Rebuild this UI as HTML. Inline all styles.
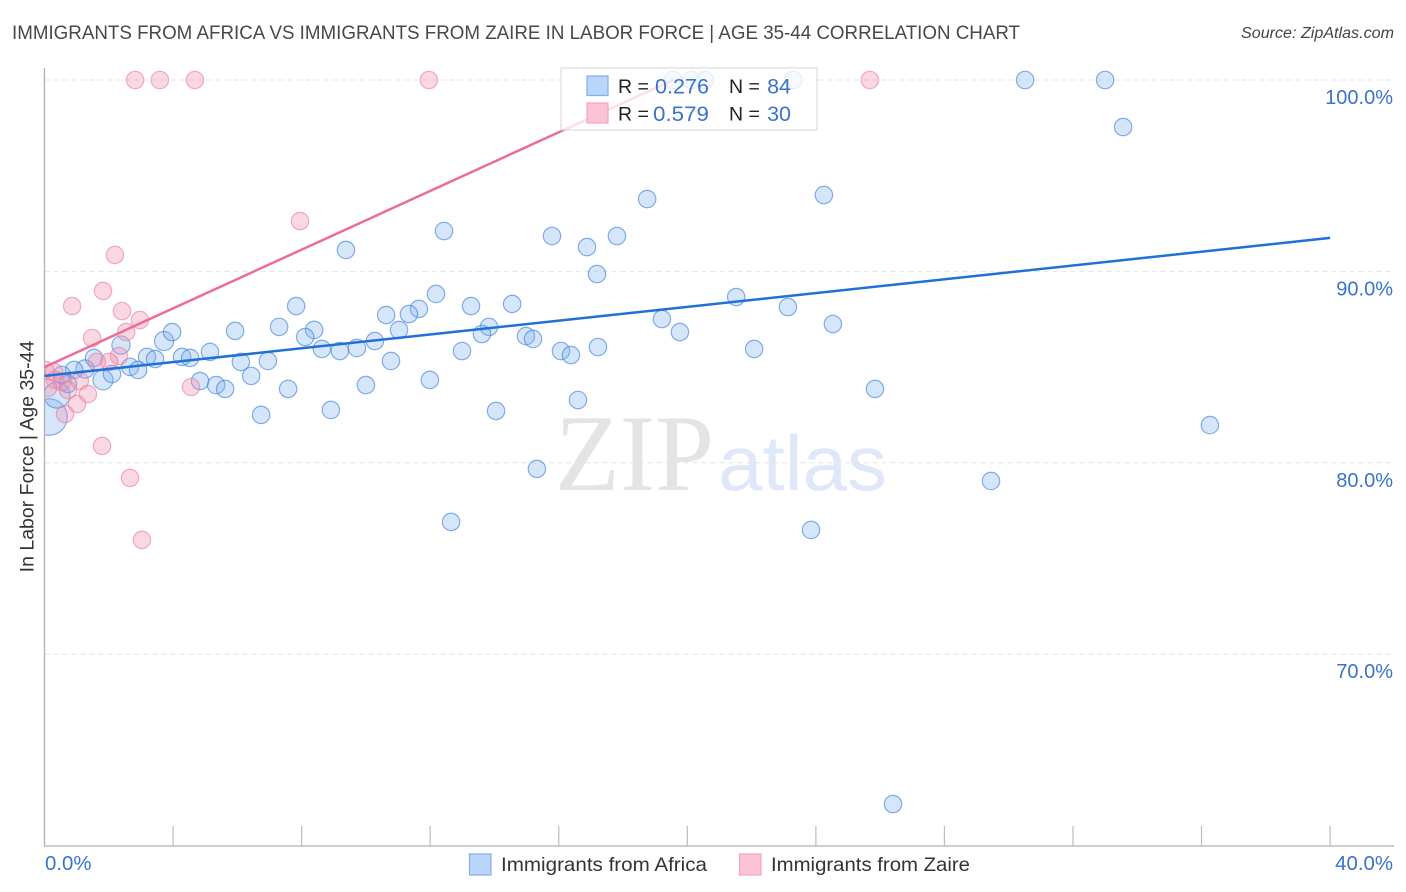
<!DOCTYPE html>
<html lang="en">
<head>
<meta charset="utf-8">
<title>Immigrants from Africa vs Immigrants from Zaire in Labor Force | Age 35-44 Correlation Chart</title>
<style>
html,body{margin:0;padding:0;background:#fff;width:1406px;height:892px;overflow:hidden}
svg{display:block}
text{font-family:"Liberation Sans",sans-serif}
</style>
</head>
<body>
<svg id="chart" xmlns="http://www.w3.org/2000/svg" width="1406" height="892" viewBox="0 0 1406 892">
  <defs><clipPath id="plot-clip"><rect x="45" y="60" width="1349" height="786"/></clipPath></defs>
  <text x="12" y="39" font-size="19.6" fill="#484848" textLength="1008" lengthAdjust="spacingAndGlyphs">IMMIGRANTS FROM AFRICA VS IMMIGRANTS FROM ZAIRE IN LABOR FORCE | AGE 35-44 CORRELATION CHART</text>
  <text x="1394" y="38" font-size="15.3" font-style="italic" fill="#444" text-anchor="end" textLength="153" lengthAdjust="spacingAndGlyphs">Source: ZipAtlas.com</text>
  <g>
    <text x="555" y="490" style="font-family:'Liberation Serif',serif" font-size="109" fill="#e4e4e4" textLength="159" lengthAdjust="spacingAndGlyphs">ZIP</text>
    <text x="718" y="490" font-size="78" fill="#dfe8f9" textLength="169" lengthAdjust="spacingAndGlyphs">atlas</text>
  </g>
  <g id="grid"></g>
  <g id="axes"></g>
  <g id="marks" clip-path="url(#plot-clip)"></g>
  <g id="lines"></g>
  <text transform="translate(33.5,456.5) rotate(-90)" font-size="19.5" fill="#333" text-anchor="middle">In Labor Force | Age 35-44</text>
  <g>
    <rect x="561" y="68" width="256" height="62" fill="#fff" fill-opacity="0.78" stroke="#d4d4d4" stroke-width="1"/>
    <rect x="587" y="76" width="21" height="19.5" fill="#b9d5f9" stroke="#7fb0ea" stroke-width="1.2"/>
    <rect x="587" y="103" width="21" height="20" fill="#fcc3d5" stroke="#f2a3bf" stroke-width="1.2"/>
    <text x="618" y="93" font-size="19.5" fill="#222">R =</text>
    <text x="709" y="93.5" font-size="21.5" fill="#3a72d0" text-anchor="end" textLength="54" lengthAdjust="spacingAndGlyphs">0.276</text>
    <text x="729" y="93" font-size="19.5" fill="#222">N =</text>
    <text x="791" y="93.5" font-size="21.5" fill="#3a72d0" text-anchor="end">84</text>
    <text x="618" y="120.5" font-size="19.5" fill="#222">R =</text>
    <text x="709" y="121" font-size="21.5" fill="#3a72d0" text-anchor="end" textLength="56" lengthAdjust="spacingAndGlyphs">0.579</text>
    <text x="729" y="120.5" font-size="19.5" fill="#222">N =</text>
    <text x="791" y="121" font-size="21.5" fill="#3a72d0" text-anchor="end">30</text>
  </g>
  <g>
    <rect x="469.5" y="854" width="21.5" height="21" fill="#b9d5f9" stroke="#7fb0ea" stroke-width="1.2"/>
    <text x="501" y="871" font-size="19.5" fill="#333" textLength="206" lengthAdjust="spacingAndGlyphs">Immigrants from Africa</text>
    <rect x="739.5" y="854" width="21.5" height="21" fill="#fcc3d5" stroke="#f2a3bf" stroke-width="1.2"/>
    <text x="771" y="871" font-size="19.5" fill="#333" textLength="199" lengthAdjust="spacingAndGlyphs">Immigrants from Zaire</text>
  </g>
</svg>
<script>
const xTicks = [0,4,8,12,16,20,24,28,32,36,40];
const xTickLabels = ["0.0%","40.0%"];
const yTicks = [100,90,80,70];
const yTickLabels = ["100.0%","90.0%","80.0%","70.0%"];

const blueX = [0.14,0.39,1.82,2.38,3.72,1.26,
33.56,33.00,30.51,23.29,20.55,20.12,19.56,24.25,18.75,12.43,15.79,17.81,16.88,9.38,17.19,12.18,21.52,7.83,13.27,14.55,23.13,11.65,11.34,10.63,19.21,24.53,7.30,8.39,13.83,19.77,5.93,3.97,11.03,13.61,14.98,15.20,8.11,10.28,17.22,22.08,8.63,9.19,9.72,12.99,16.07,16.38,5.15,1.54,3.19,3.44,4.28,4.53,6.95,6.11,10.78,2.66,2.91,2.10,0.92,6.43,11.99,4.84,10.00,5.34,5.62,7.58,25.84,0.73,0.54,16.60,8.91,14.05,6.74,36.26,15.32,29.45,12.65,23.85,26.40];
const blueY = [82.39,83.54,84.33,86.15,86.36,84.90,
97.54,100,100,100,100,100,100,93.99,93.78,92.11,91.85,91.85,91.27,91.12,89.86,88.82,88.66,88.19,88.19,88.30,88.14,88.04,87.77,87.72,87.51,87.25,87.10,86.94,87.10,86.83,86.89,86.83,86.94,86.73,86.62,86.47,86.57,86.36,86.05,85.95,85.95,85.84,86.00,85.84,85.84,85.63,85.79,85.48,85.53,85.42,85.53,85.48,85.32,85.27,85.32,85.01,84.85,84.64,84.85,84.54,84.33,84.27,84.06,84.06,83.86,83.86,83.86,84.12,84.59,83.28,82.76,82.71,82.50,81.97,79.68,79.05,76.91,76.49,62.17];
const blueSize = [2.1,1.5,1.15,1.05,1.1,1.05];

const pinkX = [2.82,3.59,4.68,11.96,25.68,7.95,2.19,1.82,0.86,2.41,2.97,2.54,1.48,2.32,2.01,1.63,0.30,0.02,0.33,0.54,1.10,1.35,4.56,1.01,0.64,1.79,2.66,3.03,0.11,0.73];
const pinkY = [100,100,100,100,100,92.63,90.86,88.98,88.19,87.93,87.46,86.83,86.52,85.58,85.27,85.27,84.74,84.85,84.33,84.22,84.27,83.59,83.96,83.07,82.55,80.88,79.21,75.97,83.91,83.80];
const pinkSize = [];

const blueTrendX = [0,40];
const blueTrendY = [84.54,91.75];
const pinkTrendX = [0,19.56];
const pinkTrendY = [85.0,100];

const SVGNS = "http://www.w3.org/2000/svg";
function xScale(v){ return 44.5 + v * 32.14; }
function yScale(v){ return 80 + (100 - v) * 19.14; }
function make(tag, attrs, parent){
  const el = document.createElementNS(SVGNS, tag);
  for (const k in attrs) el.setAttribute(k, attrs[k]);
  parent.appendChild(el);
  return el;
}

const gridG = document.getElementById("grid");
const axesG = document.getElementById("axes");
const marksG = document.getElementById("marks");
const linesG = document.getElementById("lines");

yTicks.forEach(function(t, i){
  const g = make("line", {x1:44.5, x2:1394, y1:yScale(t), y2:yScale(t), stroke:"#e4e4e4", "stroke-width":1, "stroke-dasharray":"5 4"}, gridG);
  
  
  const lab = make("text", {x:1393, y:yScale(t)+24, "font-size":20, fill:"#3a72d0", "text-anchor":"end"}, axesG);
  lab.textContent = yTickLabels[i];
  
  
});

const yAxis = make("line", {x1:44.5, x2:44.5, y1:68, y2:846.5, stroke:"#b0b0b0", "stroke-width":1.3}, axesG);


const xAxis = make("line", {x1:44, x2:1394, y1:846, y2:846, stroke:"#b0b0b0", "stroke-width":1.3}, axesG);



xTicks.slice(1).forEach(function(t){
  const tk = make("line", {x1:xScale(t), x2:xScale(t), y1:826, y2:846, stroke:"#bcbcbc", "stroke-width":1.2}, axesG);
  
  
});

const xLab0 = make("text", {x:45, y:870, "font-size":20.4, fill:"#3a72d0"}, axesG);
xLab0.textContent = xTickLabels[0];


const xLab1 = make("text", {x:1393, y:870, "font-size":20.4, fill:"#3a72d0", "text-anchor":"end"}, axesG);
xLab1.textContent = xTickLabels[1];



blueX.forEach(function(v, i){
  const c = make("circle", {cx:xScale(v), cy:yScale(blueY[i]), r:8.7*(blueSize[i]||1), fill:"#7fb2f0", "fill-opacity":0.32, stroke:"#3c7fdc", "stroke-opacity":0.62, "stroke-width":1.2}, marksG);
  
  
});
pinkX.forEach(function(v, i){
  const c = make("circle", {cx:xScale(v), cy:yScale(pinkY[i]), r:8.7*(pinkSize[i]||1), fill:"#f090b0", "fill-opacity":0.35, stroke:"#ea7a9f", "stroke-opacity":0.6, "stroke-width":1.2}, marksG);
  
  
});

const blueLine = make("line", {x1:xScale(blueTrendX[0]), y1:yScale(blueTrendY[0]), x2:xScale(blueTrendX[1]), y2:yScale(blueTrendY[1]), stroke:"#2170d8", "stroke-width":2.5}, linesG);


const pinkLine = make("line", {x1:xScale(pinkTrendX[0]), y1:yScale(pinkTrendY[0]), x2:xScale(pinkTrendX[1]), y2:yScale(pinkTrendY[1]), stroke:"#ec6c9b", "stroke-width":2.5}, linesG);


</script>
</body>
</html>
